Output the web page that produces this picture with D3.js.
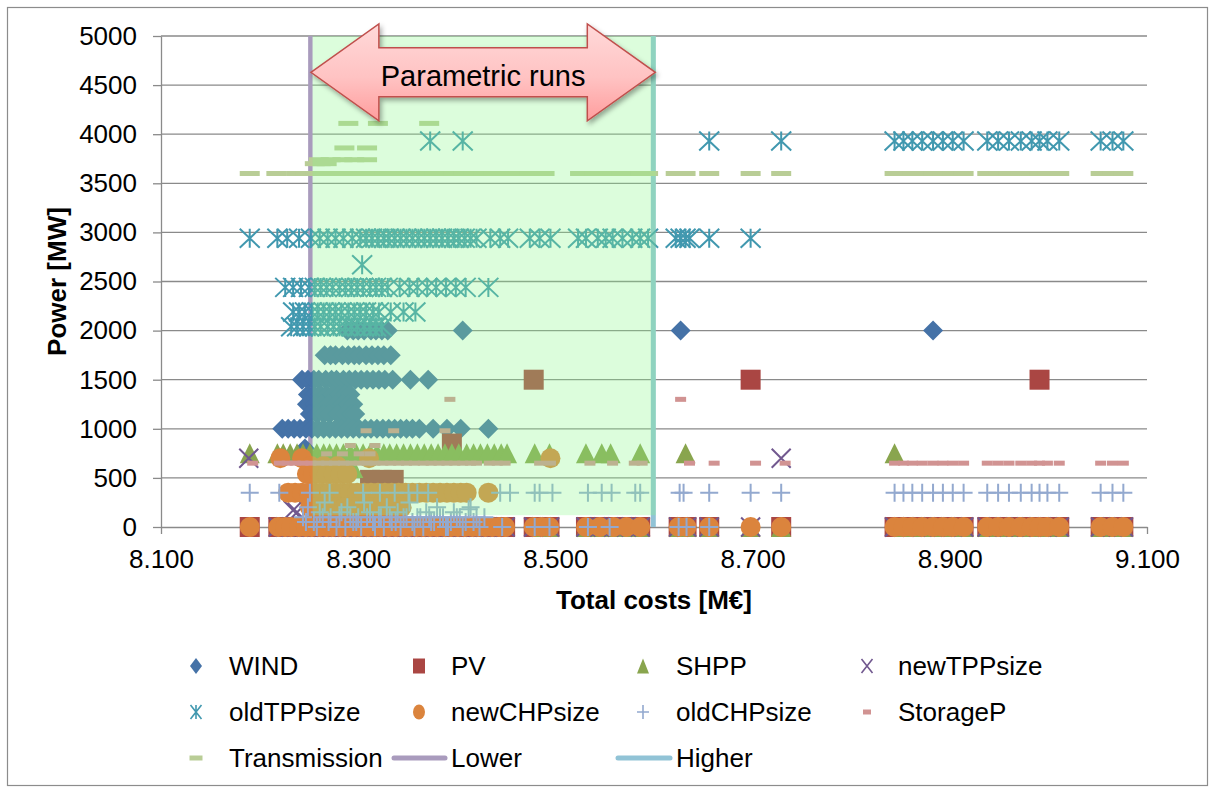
<!DOCTYPE html>
<html>
<head>
<meta charset="utf-8">
<script src="https://cdn.jsdelivr.net/npm/d3@7"></script>
<style>
  body { margin: 0; background: #fff; }
  text { font-family: "Liberation Sans", Arial, sans-serif; }
</style>
</head>
<body>
<svg id="chart" width="1213" height="790"></svg>
<script>
// axis ticks
const xTicks = [8.1, 8.3, 8.5, 8.7, 8.9, 9.1]
const yTicks = [0, 500, 1000, 1500, 2000, 2500, 3000, 3500, 4000, 4500, 5000]

// bounds of the parametric runs (Lower / Higher series)
const lowerCost = 8.2515
const higherCost = 8.5993

// runs (total cost, M€) whose PV / newTPP / newCHP sit on 0 MW
const zeroRuns = [8.190, 8.219, 8.226, 8.232, 8.240, 8.247, 8.253, 8.261, 8.268, 8.274, 8.282, 8.289,
  8.296, 8.302, 8.310, 8.317, 8.323, 8.331, 8.338, 8.345, 8.351, 8.359, 8.366, 8.373, 8.380, 8.388,
  8.394, 8.401, 8.408, 8.416, 8.422, 8.429, 8.436, 8.443, 8.449, 8.478, 8.486, 8.494, 8.531, 8.545,
  8.559, 8.572, 8.586, 8.625, 8.633, 8.656, 8.698, 8.729]
// the expensive runs on the right
const farRuns = [8.844, 8.853, 8.862, 8.872, 8.883, 8.893, 8.903, 8.914, 8.938, 8.949, 8.960, 8.972,
  8.983, 8.991, 8.999, 9.011, 9.053, 9.065, 9.076]

const windPts = [
  [8.289, 2000], [8.295, 2000], [8.300, 2000], [8.306, 2000], [8.313, 2000], [8.318, 2000], [8.324, 2000],
  [8.330, 2000], [8.406, 2000], [8.627, 2000], [8.883, 2000],
  [8.266, 1750], [8.272, 1750], [8.277, 1750], [8.284, 1750], [8.290, 1750], [8.296, 1750], [8.301, 1750],
  [8.308, 1750], [8.314, 1750], [8.320, 1750], [8.326, 1750], [8.333, 1750],
  [8.243, 1500], [8.249, 1500], [8.255, 1500], [8.260, 1500], [8.267, 1500], [8.273, 1500], [8.278, 1500],
  [8.285, 1500], [8.291, 1500], [8.297, 1500], [8.303, 1500], [8.309, 1500], [8.315, 1500], [8.321, 1500],
  [8.327, 1500], [8.335, 1500], [8.353, 1500], [8.371, 1500],
  [8.249, 1350], [8.255, 1350], [8.262, 1350], [8.268, 1350], [8.274, 1350], [8.281, 1350], [8.287, 1350], [8.292, 1350],
  [8.248, 1250], [8.256, 1250], [8.263, 1250], [8.270, 1250], [8.277, 1250], [8.284, 1250], [8.290, 1250], [8.295, 1250],
  [8.251, 1150], [8.258, 1150], [8.265, 1150], [8.271, 1150], [8.279, 1150], [8.286, 1150], [8.293, 1150], [8.297, 1150],
  [8.223, 1000], [8.229, 1000], [8.235, 1000], [8.241, 1000], [8.247, 1000], [8.253, 1000], [8.259, 1000],
  [8.265, 1000], [8.271, 1000], [8.277, 1000], [8.283, 1000], [8.289, 1000], [8.295, 1000], [8.301, 1000],
  [8.307, 1000], [8.313, 1000], [8.319, 1000], [8.325, 1000], [8.331, 1000], [8.337, 1000], [8.343, 1000],
  [8.349, 1000], [8.355, 1000], [8.362, 1000], [8.376, 1000], [8.390, 1000], [8.404, 1000], [8.432, 1000],
  [8.246, 800], [8.249, 650], [8.252, 550], [8.250, 250]
]

const pvPts = [[8.478, 1500], [8.698, 1500], [8.991, 1500], [8.312, 480], [8.324, 480], [8.336, 480], [8.395, 850]]
  .concat(zeroRuns.filter(c => c !== 8.698).map(c => [c, 0]))
  .concat(farRuns.filter(c => c !== 8.991).map(c => [c, 0]))

const shppPts = [
  [8.190, 750], [8.218, 750], [8.224, 750], [8.231, 750], [8.238, 750], [8.244, 750], [8.251, 750], [8.258, 750],
  [8.265, 750], [8.271, 750], [8.278, 750], [8.285, 750], [8.292, 750], [8.298, 750], [8.305, 750], [8.312, 750],
  [8.319, 750], [8.326, 750], [8.332, 750], [8.339, 750], [8.346, 750], [8.353, 750], [8.360, 750], [8.367, 750],
  [8.374, 750], [8.381, 750], [8.388, 750], [8.395, 750], [8.402, 750], [8.410, 750], [8.417, 750], [8.424, 750],
  [8.431, 750], [8.438, 750], [8.445, 750], [8.451, 750], [8.479, 750], [8.494, 750], [8.531, 750], [8.547, 750],
  [8.556, 750], [8.586, 750], [8.632, 750], [8.844, 750],
  [8.272, 600], [8.283, 600], [8.295, 600]
].concat(zeroRuns.slice(36).map(c => [c, 0]))
  .concat(farRuns.filter(c => c !== 8.844).map(c => [c, 0]))

const newTppPts = [[8.189, 700], [8.729, 700], [8.234, 170], [8.238, 150]]
  .concat(zeroRuns.filter(c => c !== 8.190 && c !== 8.729).map(c => [c, 0]))
  .concat(farRuns.map(c => [c, 0]))

const oldTppPts = [
  [8.373, 3930], [8.406, 3930], [8.656, 3930], [8.729, 3930],
  [8.190, 2940], [8.218, 2940], [8.228, 2940], [8.240, 2940], [8.252, 2940], [8.261, 2940], [8.269, 2940],
  [8.277, 2940], [8.285, 2940], [8.294, 2940], [8.302, 2940], [8.308, 2940], [8.314, 2940], [8.320, 2940],
  [8.326, 2940], [8.331, 2940], [8.337, 2940], [8.343, 2940], [8.349, 2940], [8.355, 2940], [8.361, 2940],
  [8.367, 2940], [8.373, 2940], [8.379, 2940], [8.385, 2940], [8.391, 2940], [8.397, 2940], [8.402, 2940],
  [8.408, 2940], [8.414, 2940], [8.420, 2940], [8.434, 2940], [8.444, 2940], [8.452, 2940], [8.474, 2940],
  [8.484, 2940], [8.495, 2940], [8.523, 2940], [8.531, 2940], [8.543, 2940], [8.551, 2940], [8.558, 2940],
  [8.568, 2940], [8.578, 2940], [8.586, 2940], [8.594, 2940], [8.622, 2940], [8.627, 2940], [8.632, 2940],
  [8.636, 2940], [8.656, 2940], [8.698, 2940],
  [8.304, 2670],
  [8.226, 2440], [8.234, 2440], [8.242, 2440], [8.250, 2440], [8.256, 2440], [8.262, 2440], [8.268, 2440],
  [8.274, 2440], [8.281, 2440], [8.287, 2440], [8.293, 2440], [8.299, 2440], [8.305, 2440], [8.312, 2440],
  [8.318, 2440], [8.324, 2440], [8.330, 2440], [8.342, 2440], [8.352, 2440], [8.360, 2440], [8.370, 2440],
  [8.379, 2440], [8.389, 2440], [8.399, 2440], [8.409, 2440], [8.432, 2440],
  [8.234, 2190], [8.240, 2190], [8.246, 2190], [8.253, 2190], [8.259, 2190], [8.265, 2190], [8.271, 2190],
  [8.277, 2190], [8.283, 2190], [8.290, 2190], [8.296, 2190], [8.302, 2190], [8.308, 2190], [8.315, 2190],
  [8.321, 2190], [8.333, 2190], [8.346, 2190], [8.358, 2190],
  [8.232, 2040], [8.238, 2040], [8.244, 2040], [8.250, 2040], [8.256, 2040], [8.262, 2040], [8.269, 2040],
  [8.275, 2040], [8.281, 2040], [8.287, 2040], [8.293, 2040], [8.299, 2040], [8.306, 2040], [8.312, 2040],
  [8.318, 2040], [8.324, 2040]
].concat(farRuns.map(c => [c, 3930]))

const newChpPts = [
  [8.221, 700], [8.243, 700], [8.311, 700], [8.495, 700],
  [8.252, 620], [8.265, 620], [8.279, 620],
  [8.248, 540], [8.254, 540], [8.261, 540], [8.268, 540], [8.275, 540], [8.282, 540], [8.289, 540],
  [8.229, 350], [8.236, 350], [8.243, 350], [8.250, 350], [8.257, 350], [8.264, 350], [8.271, 350],
  [8.278, 350], [8.285, 350], [8.292, 350], [8.299, 350], [8.306, 350], [8.313, 350], [8.320, 350],
  [8.327, 350], [8.334, 350], [8.341, 350], [8.348, 350], [8.355, 350], [8.362, 350], [8.369, 350],
  [8.376, 350], [8.383, 350], [8.390, 350], [8.397, 350], [8.404, 350], [8.410, 350], [8.432, 350],
  [8.251, 200], [8.258, 200], [8.265, 200], [8.272, 200], [8.279, 200], [8.286, 200], [8.293, 200],
  [8.300, 200], [8.307, 200], [8.314, 200], [8.321, 200], [8.328, 200], [8.336, 200], [8.344, 200]
].concat(zeroRuns.map(c => [c, 0]), farRuns.map(c => [c, 0]))

const oldChpPts = [
  [8.190, 350], [8.220, 350], [8.251, 350], [8.271, 350], [8.305, 350], [8.322, 350], [8.337, 350],
  [8.351, 350], [8.360, 350], [8.371, 350], [8.444, 350], [8.454, 350], [8.479, 350], [8.484, 350],
  [8.497, 350], [8.533, 350], [8.547, 350], [8.557, 350], [8.581, 350], [8.586, 350], [8.626, 350],
  [8.630, 350], [8.656, 350], [8.698, 350], [8.729, 350],
  [8.244, 100], [8.249, 200], [8.255, 50], [8.261, 150], [8.266, 250], [8.272, 100], [8.278, 0],
  [8.283, 150], [8.289, 200], [8.295, 50], [8.300, 100], [8.306, 250], [8.312, 150], [8.317, 0],
  [8.323, 100], [8.329, 200], [8.334, 50], [8.340, 150], [8.346, 100], [8.352, 250], [8.357, 0],
  [8.363, 100], [8.369, 150], [8.374, 50], [8.380, 200], [8.386, 100], [8.391, 0], [8.397, 150],
  [8.403, 100], [8.409, 50], [8.412, 180], [8.414, 200], [8.420, 100],
  [8.247, 50], [8.258, 0], [8.264, 100], [8.270, 50], [8.281, 100], [8.287, 0], [8.292, 100],
  [8.298, 50], [8.303, 0], [8.309, 100], [8.315, 50], [8.321, 100], [8.326, 0], [8.332, 100],
  [8.338, 50], [8.343, 0], [8.349, 100], [8.355, 50], [8.360, 100], [8.366, 0], [8.372, 100],
  [8.377, 50], [8.383, 100], [8.389, 0], [8.394, 50], [8.400, 100], [8.406, 0], [8.417, 50],
  [8.423, 0], [8.428, 100],
  [8.446, 0], [8.479, 0], [8.494, 0], [8.533, 0], [8.555, 0], [8.625, 0], [8.633, 0], [8.656, 0]
].concat(farRuns.map(c => [c, 350]))

const storagePts = [
  [8.393, 1300], [8.627, 1300],
  [8.308, 980], [8.336, 980], [8.388, 980],
  [8.292, 830], [8.317, 830],
  [8.268, 745], [8.284, 745], [8.301, 745], [8.312, 745],
  [8.193, 650], [8.220, 650], [8.228, 650], [8.236, 650], [8.244, 650], [8.252, 650], [8.260, 650],
  [8.268, 650], [8.276, 650], [8.285, 650], [8.293, 650], [8.301, 650], [8.309, 650], [8.317, 650],
  [8.325, 650], [8.333, 650], [8.341, 650], [8.349, 650], [8.357, 650], [8.366, 650], [8.374, 650],
  [8.382, 650], [8.390, 650], [8.398, 650], [8.406, 650], [8.414, 650], [8.420, 650], [8.433, 650],
  [8.441, 650], [8.449, 650], [8.484, 650], [8.495, 650], [8.535, 650], [8.558, 650], [8.580, 650],
  [8.588, 650], [8.636, 650], [8.661, 650], [8.703, 650], [8.733, 650]
].concat(farRuns.map(c => [c, 650]))

const transmissionPts = [
  [8.290, 4110], [8.320, 4110], [8.372, 4110],
  [8.286, 3860], [8.309, 3860],
  [8.260, 3740], [8.272, 3740], [8.284, 3740], [8.296, 3740], [8.309, 3740],
  [8.256, 3700], [8.262, 3700], [8.268, 3700],
  [8.190, 3600], [8.217, 3600], [8.237, 3600], [8.247, 3600], [8.257, 3600], [8.267, 3600], [8.277, 3600],
  [8.287, 3600], [8.297, 3600], [8.307, 3600], [8.317, 3600], [8.327, 3600], [8.337, 3600], [8.347, 3600],
  [8.357, 3600], [8.367, 3600], [8.377, 3600], [8.387, 3600], [8.397, 3600], [8.407, 3600], [8.417, 3600],
  [8.427, 3600], [8.437, 3600], [8.447, 3600], [8.455, 3600], [8.474, 3600], [8.489, 3600], [8.525, 3600],
  [8.540, 3600], [8.555, 3600], [8.567, 3600], [8.586, 3600], [8.594, 3600], [8.622, 3600], [8.632, 3600],
  [8.656, 3600], [8.698, 3600], [8.729, 3600]
].concat(farRuns.map(c => [c, 3600]))

// series in Excel drawing order
const series = [
  { name: 'WIND', type: 'diamond', color: '#4572A7', w: 20, h: 20, pts: windPts },
  { name: 'PV', type: 'square', color: '#AA4643', w: 20, h: 20, pts: pvPts },
  { name: 'SHPP', type: 'triangle', color: '#89A54E', w: 20, h: 20, pts: shppPts },
  { name: 'newTPPsize', type: 'x', color: '#71588F', w: 19, h: 19, pts: newTppPts },
  { name: 'oldTPPsize', type: 'star', color: '#4198AF', w: 20, h: 19, pts: oldTppPts },
  { name: 'newCHPsize', type: 'circle', color: '#DB843D', w: 20, h: 20, pts: newChpPts },
  { name: 'oldCHPsize', type: 'plus', color: '#93A9CF', w: 18, h: 18, pts: oldChpPts },
  { name: 'StorageP', type: 'dash', color: '#D19392', w: 11, h: 5, pts: storagePts },
  { name: 'Transmission', type: 'dash', color: '#B9CD96', w: 20, h: 5, pts: transmissionPts }
]
const lowerColor = '#A99BBD'
const higherColor = '#91C3D6'

let svg = d3.select('#chart')
let x = d3.scaleLinear().domain([8.1, 9.1]).range([161, 1147])
let y = d3.scaleLinear().domain([0, 5000]).range([527, 36])

function markerPath(type, w, h) {
  let a = w / 2, b = h / 2
  switch (type) {
    case 'diamond': return `M0,${-b}L${a},0L0,${b}L${-a},0Z`
    case 'square':
    case 'dash': return `M${-a},${-b}H${a}V${b}H${-a}Z`
    case 'triangle': return `M0,${-b}L${a},${b}L${-a},${b}Z`
    case 'circle': return `M${-a},0A${a},${b} 0 1,0 ${a},0A${a},${b} 0 1,0 ${-a},0Z`
    case 'x': return `M${-a},${-b}L${a},${b}M${-a},${b}L${a},${-b}`
    case 'star': return `M${-a},${-b}L${a},${b}M${-a},${b}L${a},${-b}M0,${-b}V${b}`
    case 'plus': return `M${-a},0H${a}M0,${-b}V${b}`
  }
}
function isOpen(type) { return type === 'x' || type === 'star' || type === 'plus' }

function styleMarker(sel, s) {
  if (isOpen(s.type)) {
    sel.attr('fill', 'none').attr('stroke', s.color).attr('stroke-width', 2)
  } else {
    sel.attr('fill', s.color).attr('stroke', 'none')
  }
}

// chart border
svg.append('rect')
  .attr('x', 7.5).attr('y', 7.5).attr('width', 1200).attr('height', 778)
  .attr('fill', '#fff').attr('stroke', '#8c8c8c').attr('stroke-width', 1.2)

// horizontal gridlines
svg.append('g')
  .selectAll('line')
  .data(yTicks.filter(d => d > 0))
  .join('line')
  .attr('x1', x(8.1)).attr('x2', x(9.1))
  .attr('y1', d => y(d)).attr('y2', d => y(d))
  .attr('stroke', '#8a8a8a').attr('stroke-width', 1.3)

// axes
let gy = svg.append('g')
  .attr('transform', `translate(${x(8.1)},0)`)
  .call(d3.axisLeft(y).tickValues(yTicks).tickSize(8).tickSizeOuter(0).tickPadding(16).tickFormat(d3.format('d')))
let gx = svg.append('g')
  .attr('transform', `translate(0,${y(0)})`)
  .call(d3.axisBottom(x).tickValues(xTicks).tickSize(7).tickSizeOuter(0).tickPadding(16).tickFormat(d3.format('.3f')))
for (let g of [gx, gy]) {
  g.select('.domain').attr('stroke', '#8a8a8a').attr('stroke-width', 1.3)
  g.selectAll('.tick line').attr('stroke', '#8a8a8a').attr('stroke-width', 1.3)
  g.selectAll('.tick text').attr('fill', '#000').style('font-size', '26px')
}

// Lower / Higher lines sit under the markers
svg.append('line')
  .attr('x1', x(lowerCost)).attr('x2', x(lowerCost)).attr('y1', y(0)).attr('y2', y(5000))
  .attr('stroke', lowerColor).attr('stroke-width', 4.5)
svg.append('line')
  .attr('x1', x(higherCost)).attr('x2', x(higherCost)).attr('y1', y(0)).attr('y2', y(5000))
  .attr('stroke', higherColor).attr('stroke-width', 5)

// markers
series.forEach(s => {
  let g = svg.append('g').attr('class', 'series')
  let m = g.selectAll('path')
    .data(s.pts)
    .join('path')
    .attr('d', markerPath(s.type, s.w, s.h))
    .attr('transform', d => `translate(${x(d[0])},${y(d[1])})`)
  styleMarker(m, s)
})

// shaded parametric-run band (semi transparent, on top of the markers)
svg.append('rect')
  .attr('x', x(lowerCost) + 2.2)
  .attr('y', y(5000))
  .attr('width', x(higherCost) - x(lowerCost) + 0.3)
  .attr('height', y(120) - y(5000))
  .attr('fill', 'rgb(140,248,138)')
  .attr('opacity', 0.3)

// double arrow
let defs = svg.append('defs')
let grad = defs.append('linearGradient').attr('id', 'arrowFill').attr('x1', 0).attr('x2', 0).attr('y1', 0).attr('y2', 1)
grad.append('stop').attr('offset', '0%').attr('stop-color', '#ffd9d9')
grad.append('stop').attr('offset', '55%').attr('stop-color', '#ffc3c3')
grad.append('stop').attr('offset', '100%').attr('stop-color', '#ff9d9d')
defs.append('filter').attr('id', 'shadow').attr('x', '-10%').attr('y', '-20%').attr('width', '130%').attr('height', '150%')
  .append('feDropShadow').attr('dx', 2).attr('dy', 3).attr('stdDeviation', 2.5)
  .attr('flood-color', '#000').attr('flood-opacity', 0.35)

let ax0 = x(lowerCost) + 0.5
let ax1 = x(higherCost) + 2
let ay = y(4630)
let headLen = 68, headHalf = 48.5, shaftHalf = 24.5
let arrowPts = [
  [ax0, ay], [ax0 + headLen, ay - headHalf], [ax0 + headLen, ay - shaftHalf],
  [ax1 - headLen, ay - shaftHalf], [ax1 - headLen, ay - headHalf], [ax1, ay],
  [ax1 - headLen, ay + headHalf], [ax1 - headLen, ay + shaftHalf],
  [ax0 + headLen, ay + shaftHalf], [ax0 + headLen, ay + headHalf]
]
svg.append('path')
  .attr('d', 'M' + arrowPts.map(p => p.join(',')).join('L') + 'Z')
  .attr('fill', 'url(#arrowFill)')
  .attr('stroke', '#C0504D').attr('stroke-width', 1.5)
  .attr('filter', 'url(#shadow)')
svg.append('text')
  .attr('x', (ax0 + ax1) / 2).attr('y', ay + 14)
  .attr('text-anchor', 'middle')
  .style('font-size', '29px')
  .text('Parametric runs')

// axis titles
svg.append('text')
  .attr('transform', `translate(57,${(y(0) + y(5000)) / 2}) rotate(-90)`)
  .attr('text-anchor', 'middle').attr('dy', '0.35em')
  .style('font-size', '26px').style('font-weight', 'bold')
  .text('Power [MW]')
svg.append('text')
  .attr('x', (x(8.1) + x(9.1)) / 2).attr('y', 609)
  .attr('text-anchor', 'middle')
  .style('font-size', '26px').style('font-weight', 'bold')
  .text('Total costs [M€]')

// legend
let colMarker = [196, 419, 643, 867]
let colText = [229, 451, 676, 898]
let rowY = [666, 712, 758]
let legendSize = { diamond: [12, 16], square: [12, 15], triangle: [12, 15], x: [11, 14], star: [11, 14], circle: [12, 15], plus: [12, 14] }
let legend = svg.append('g').attr('class', 'legend')
series.forEach((s, i) => {
  let col = i % 4, row = Math.floor(i / 4)
  let sz = s.type === 'dash' ? (s.w > 15 ? [13, 5] : [8, 5]) : legendSize[s.type]
  let m = legend.append('path')
    .attr('d', markerPath(s.type, sz[0], sz[1]))
    .attr('transform', `translate(${colMarker[col]},${rowY[row]})`)
  styleMarker(m, s)
  if (isOpen(s.type)) m.attr('stroke-width', 1.6)
  legend.append('text')
    .attr('x', colText[col]).attr('y', rowY[row]).attr('dy', '0.35em')
    .style('font-size', '26px')
    .text(s.name)
})
let lineItems = [{ name: 'Lower', color: lowerColor, col: 1 }, { name: 'Higher', color: higherColor, col: 2 }]
lineItems.forEach(l => {
  legend.append('line')
    .attr('x1', colMarker[l.col] - 25).attr('x2', colText[l.col] - 6)
    .attr('y1', rowY[2]).attr('y2', rowY[2])
    .attr('stroke', l.color).attr('stroke-width', 5).attr('stroke-linecap', 'round')
  legend.append('text')
    .attr('x', colText[l.col]).attr('y', rowY[2]).attr('dy', '0.35em')
    .style('font-size', '26px')
    .text(l.name)
})
</script>
</body>
</html>
